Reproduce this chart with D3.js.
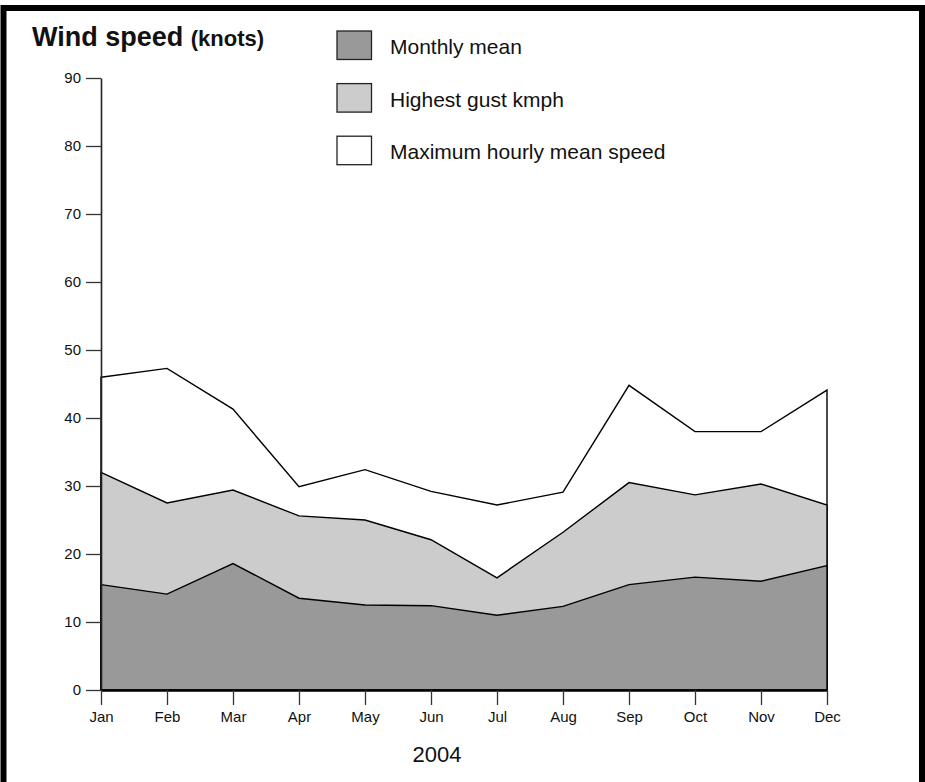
<!DOCTYPE html>
<html>
  <head>
    <meta charset="utf-8">
    <title>Wind speed 2004</title>
    <script src="https://d3js.org/d3.v7.min.js"></script>
    <style>
      body { margin: 0; background: #ffffff; }
      text { font-family: "Liberation Sans", Arial, Helvetica, sans-serif; fill: #111; }
    </style>
  </head>
  <body>
    <svg width="925" height="782"></svg>
    <script>
      // chart data
      var months = ["Jan", "Feb", "Mar", "Apr", "May", "Jun", "Jul", "Aug", "Sep", "Oct", "Nov", "Dec"];
      var monthlyMean = [15.5, 14.1, 18.6, 13.5, 12.5, 12.4, 11.0, 12.3, 15.5, 16.6, 16.0, 18.3];
      var highestGust = [32.0, 27.5, 29.4, 25.6, 25.0, 22.1, 16.5, 23.2, 30.5, 28.7, 30.3, 27.2];
      var maxHourly = [46.0, 47.3, 41.3, 29.9, 32.4, 29.2, 27.2, 29.1, 44.8, 38.0, 38.0, 44.1];
      var yTicks = [0, 10, 20, 30, 40, 50, 60, 70, 80, 90];
      var legendLabels = ["Monthly mean", "Highest gust kmph", "Maximum hourly mean speed"];

      var margin = { top: 78, right: 98, bottom: 92, left: 101 },
          width = 925 - margin.left - margin.right,
          height = 782 - margin.top - margin.bottom;

      var root = d3.select("svg");

      // frame round the whole picture
      root.append("rect")
          .attr("x", 3.5)
          .attr("y", 8)
          .attr("width", 918.5)
          .attr("height", 800)
          .attr("fill", "none")
          .attr("stroke", "#000")
          .attr("stroke-width", 6);

      var svg = root.append("g")
          .attr("transform", "translate(" + margin.left + "," + margin.top + ")");

      var xScale = d3.scalePoint()
          .domain(months)
          .range([0, width]);

      var yScale = d3.scaleLinear()
          .domain([0, 90])
          .range([height, 0]);

      // biggest series first so the smaller ones sit on top
      var series = [
        { values: maxHourly, fill: "#ffffff" },
        { values: highestGust, fill: "#cccccc" },
        { values: monthlyMean, fill: "#999999" }
      ];

      var area = d3.area()
          .x(function(d, i) { return xScale(months[i]); })
          .y0(yScale(0))
          .y1(function(d) { return yScale(d); });

      svg.selectAll(".layer")
          .data(series)
          .enter()
          .append("path")
          .attr("class", "layer")
          .attr("d", function(d) { return area(d.values); })
          .attr("fill", function(d) { return d.fill; })
          .attr("stroke", "#000")
          .attr("stroke-width", 1.4)
          .attr("stroke-linejoin", "miter");

      var yAxis = d3.axisLeft(yScale)
          .tickValues(yTicks)
          .tickSize(15)
          .tickPadding(5)
          .tickSizeOuter(0);

      var gy = svg.append("g").call(yAxis);
      gy.select(".domain").attr("stroke", "#222").attr("stroke-width", 1.6);
      gy.selectAll(".tick line").attr("stroke", "#333").attr("stroke-width", 1.3);
      gy.selectAll(".tick text")
          .style("font-size", "15px")
          .style("font-family", "Liberation Sans, Arial, sans-serif")
          .attr("fill", "#111");

      var xAxis = d3.axisBottom(xScale)
          .tickSize(15)
          .tickPadding(6)
          .tickSizeOuter(0);

      var gx = svg.append("g")
          .attr("transform", "translate(0," + height + ")")
          .call(xAxis);
      gx.select(".domain").attr("stroke", "#000").attr("stroke-width", 2.6);
      gx.selectAll(".tick line").attr("stroke", "#333").attr("stroke-width", 1.3);
      gx.selectAll(".tick text")
          .style("font-size", "15px")
          .style("font-family", "Liberation Sans, Arial, sans-serif")
          .attr("fill", "#111");

      // title
      var title = root.append("text")
          .attr("x", 32)
          .attr("y", 46)
          .style("font-weight", "bold");
      title.append("tspan").style("font-size", "27px").text("Wind speed ");
      title.append("tspan").style("font-size", "22px").text("(knots)");

      // year label under the axis
      root.append("text")
          .attr("x", 437)
          .attr("y", 762)
          .attr("text-anchor", "middle")
          .style("font-size", "22px")
          .text("2004");

      // legend
      var legendFills = ["#999999", "#cccccc", "#ffffff"];
      var legend = root.selectAll(".legend")
          .data(legendLabels)
          .enter()
          .append("g")
          .attr("class", "legend")
          .attr("transform", function(d, i) { return "translate(337," + (31 + i * 52.6) + ")"; });

      legend.append("rect")
          .attr("width", 34.5)
          .attr("height", 28.5)
          .attr("fill", function(d, i) { return legendFills[i]; })
          .attr("stroke", "#222")
          .attr("stroke-width", 1.3);

      legend.append("text")
          .attr("x", 53)
          .attr("y", 23)
          .style("font-size", "21px")
          .text(function(d) { return d; });
    </script>
  </body>
</html>
